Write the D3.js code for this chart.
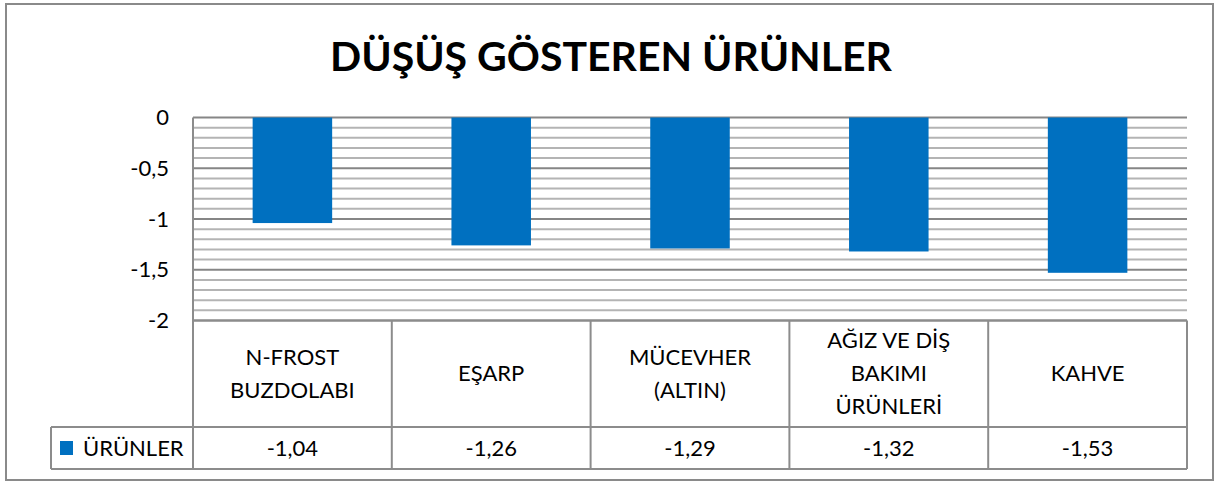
<!DOCTYPE html>
<html>
<head>
<meta charset="utf-8">
<script src="https://cdnjs.cloudflare.com/ajax/libs/d3/7.8.5/d3.min.js"></script>
<style>
  body { margin: 0; background: #fff; }
  svg text { font-family: Lato, "Open Sans", sans-serif; fill: #000; }
  .tick line { display: none; }
  .domain { display: none; }
</style>
</head>
<body>
<div id="chart"></div>
<script>
var chartTitle = "DÜŞÜŞ GÖSTEREN ÜRÜNLER";
var seriesName = "ÜRÜNLER";
var categories = [
  ["N-FROST", "BUZDOLABI"],
  ["EŞARP"],
  ["MÜCEVHER", "(ALTIN)"],
  ["AĞIZ VE DİŞ", "BAKIMI", "ÜRÜNLERİ"],
  ["KAHVE"]
];
var values = [-1.04, -1.26, -1.29, -1.32, -1.53];
var yTicks = [0, -0.5, -1, -1.5, -2];

var width = 1216, height = 482;
var plot = {left: 193, right: 1187, top: 117.5, bottom: 320.5};
var rowCat = 427, rowVal = 469, legendLeft = 51;
var barColor = "#0070C0", gridMajor = "#868686", gridMinor = "#b4b4b4", tableLine = "#8c8c8c";

var trLocale = d3.formatLocale({decimal: ",", thousands: ".", grouping: [3], currency: ["", ""], minus: "-"});
var fmtTick = trLocale.format("");
var fmtVal = trLocale.format(".2f");

var svg = d3.select("#chart").append("svg")
  .attr("width", width).attr("height", height);

// outer frame
svg.append("rect")
  .attr("x", 6).attr("y", 4).attr("width", 1207).attr("height", 476)
  .attr("fill", "#fff").attr("stroke", "#8a8a8a").attr("stroke-width", 2);

// title
svg.append("text")
  .attr("x", 611).attr("y", 71)
  .attr("text-anchor", "middle")
  .style("font-size", "41px").style("font-weight", "bold")
  .text(chartTitle);

var x = d3.scaleBand()
  .domain(d3.range(values.length))
  .range([plot.left, plot.right])
  .paddingInner(0).paddingOuter(0);

var y = d3.scaleLinear().domain([-2, 0]).range([plot.bottom, plot.top]);

// minor gridlines every 0.1
var minor = d3.range(-20, 1).map(function(d){ return d / 10; })
  .filter(function(d){ return Math.abs(d * 2 - Math.round(d * 2)) > 1e-6; });
svg.append("g").selectAll("line").data(minor).join("line")
  .attr("x1", plot.left).attr("x2", plot.right)
  .attr("y1", function(d){ return y(d); }).attr("y2", function(d){ return y(d); })
  .attr("stroke", gridMinor).attr("stroke-width", 2);

svg.append("g").selectAll("line").data(yTicks).join("line")
  .attr("x1", plot.left).attr("x2", plot.right)
  .attr("y1", function(d){ return y(d); }).attr("y2", function(d){ return y(d); })
  .attr("stroke", gridMajor).attr("stroke-width", 2);

// bars
var barW = x.bandwidth() * 0.4;
svg.append("g").selectAll("rect").data(values).join("rect")
  .attr("x", function(d, i){ return x(i) + (x.bandwidth() - barW) / 2; })
  .attr("y", y(0))
  .attr("width", barW)
  .attr("height", function(d){ return y(d) - y(0); })
  .attr("fill", barColor);

// y axis labels
var yAxis = svg.append("g")
  .attr("transform", "translate(" + (plot.left - 14) + ",0)")
  .call(d3.axisLeft(y).tickValues(yTicks).tickFormat(fmtTick).tickSize(0).tickPadding(10));
yAxis.selectAll("text").style("font-size", "22px").attr("fill", "#000");

// data table
var t = svg.append("g").attr("stroke", tableLine).attr("stroke-width", 2).attr("fill", "none");
t.append("line").attr("x1", plot.left).attr("x2", plot.left).attr("y1", plot.top).attr("y2", rowVal);
t.append("line").attr("x1", plot.left).attr("x2", plot.right).attr("y1", plot.bottom).attr("y2", plot.bottom);
t.append("line").attr("x1", legendLeft).attr("x2", plot.right).attr("y1", rowCat).attr("y2", rowCat);
t.append("line").attr("x1", legendLeft).attr("x2", plot.right).attr("y1", rowVal).attr("y2", rowVal);
t.append("line").attr("x1", legendLeft).attr("x2", legendLeft).attr("y1", rowCat).attr("y2", rowVal);
t.selectAll("line.col").data(d3.range(1, values.length + 1)).join("line")
  .attr("class", "col")
  .attr("x1", function(i){ return x.range()[0] + i * x.step(); })
  .attr("x2", function(i){ return x.range()[0] + i * x.step(); })
  .attr("y1", plot.bottom).attr("y2", rowVal);

// category labels
var lineH = 33;
var catG = svg.append("g").selectAll("text").data(categories).join("text")
  .attr("text-anchor", "middle")
  .style("font-size", "22px")
  .attr("x", function(d, i){ return x(i) + x.bandwidth() / 2; })
  .attr("y", function(d){ return (plot.bottom + rowCat) / 2 - (d.length - 1) * lineH / 2; });
catG.selectAll("tspan").data(function(d){ return d; }).join("tspan")
  .attr("x", function(){ return this.parentNode.getAttribute("x"); })
  .attr("dy", function(d, j){ return j === 0 ? "0.35em" : lineH; })
  .text(function(d){ return d; });

// values row
svg.append("g").selectAll("text").data(values).join("text")
  .attr("text-anchor", "middle")
  .style("font-size", "22px")
  .attr("x", function(d, i){ return x(i) + x.bandwidth() / 2; })
  .attr("y", (rowCat + rowVal) / 2)
  .attr("dy", "0.35em")
  .text(function(d){ return fmtVal(d); });

// legend cell
svg.append("rect")
  .attr("x", 60).attr("y", 441).attr("width", 13).attr("height", 14)
  .attr("fill", barColor);
svg.append("text")
  .attr("x", 83).attr("y", (rowCat + rowVal) / 2).attr("dy", "0.35em")
  .style("font-size", "22px")
  .text(seriesName);
</script>
</body>
</html>
